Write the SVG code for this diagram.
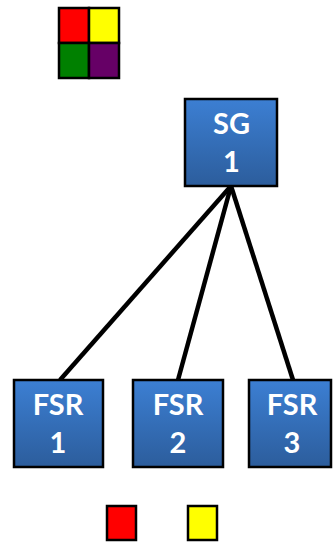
<svg xmlns="http://www.w3.org/2000/svg" width="333" height="543" viewBox="0 0 333 543">
  <defs>
    <linearGradient id="boxFill" x1="0" y1="0" x2="0" y2="1">
      <stop offset="0" stop-color="#3c7fd3"/>
      <stop offset="1" stop-color="#2c5d9c"/>
    </linearGradient>
    <style>
      .node rect { fill: url(#boxFill); stroke: #000; stroke-width: 2.5; }
      .node text { fill: #fff; font-family: Lato, "Open Sans", sans-serif; font-weight: bold; font-size: 29px; text-anchor: middle; }
      .edge { stroke: #000; stroke-width: 4.5; fill: none; }
      .swatch { stroke: #000; stroke-width: 2.5; }
    </style>
  </defs>

  <!-- colour key grid -->
  <g id="key-grid">
    <rect class="swatch" x="59" y="8" width="30" height="35" fill="#ff0000"/>
    <rect class="swatch" x="89" y="8" width="30" height="35" fill="#ffff00"/>
    <rect class="swatch" x="59" y="43" width="30" height="35" fill="#008000"/>
    <rect class="swatch" x="89" y="43" width="30" height="35" fill="#660066"/>
  </g>

  <!-- connectors -->
  <g id="edges">
    <line class="edge" x1="60" y1="380" x2="231" y2="186"/>
    <line class="edge" x1="178" y1="380" x2="231" y2="186"/>
    <line class="edge" x1="293" y1="380" x2="231" y2="186"/>
  </g>

  <g id="sg1" class="node">
    <rect x="185" y="99" width="92" height="87"/>
    <text x="231.5" y="134">SG</text>
    <text x="231.5" y="172">1</text>
  </g>

  <g id="fsr1" class="node">
    <rect x="14" y="380" width="89" height="87"/>
    <text x="58" y="415">FSR</text>
    <text x="58" y="453">1</text>
  </g>
  <g id="fsr2" class="node">
    <rect x="133" y="380" width="90" height="87"/>
    <text x="178" y="415">FSR</text>
    <text x="178" y="453">2</text>
  </g>
  <g id="fsr3" class="node">
    <rect x="249" y="380" width="82" height="87"/>
    <text x="292" y="415">FSR</text>
    <text x="292" y="453">3</text>
  </g>

  <!-- legend swatches -->
  <g id="legend">
    <rect class="swatch" x="107" y="506" width="29" height="34" fill="#ff0000"/>
    <rect class="swatch" x="188" y="506" width="29" height="34" fill="#ffff00"/>
  </g>
</svg>
